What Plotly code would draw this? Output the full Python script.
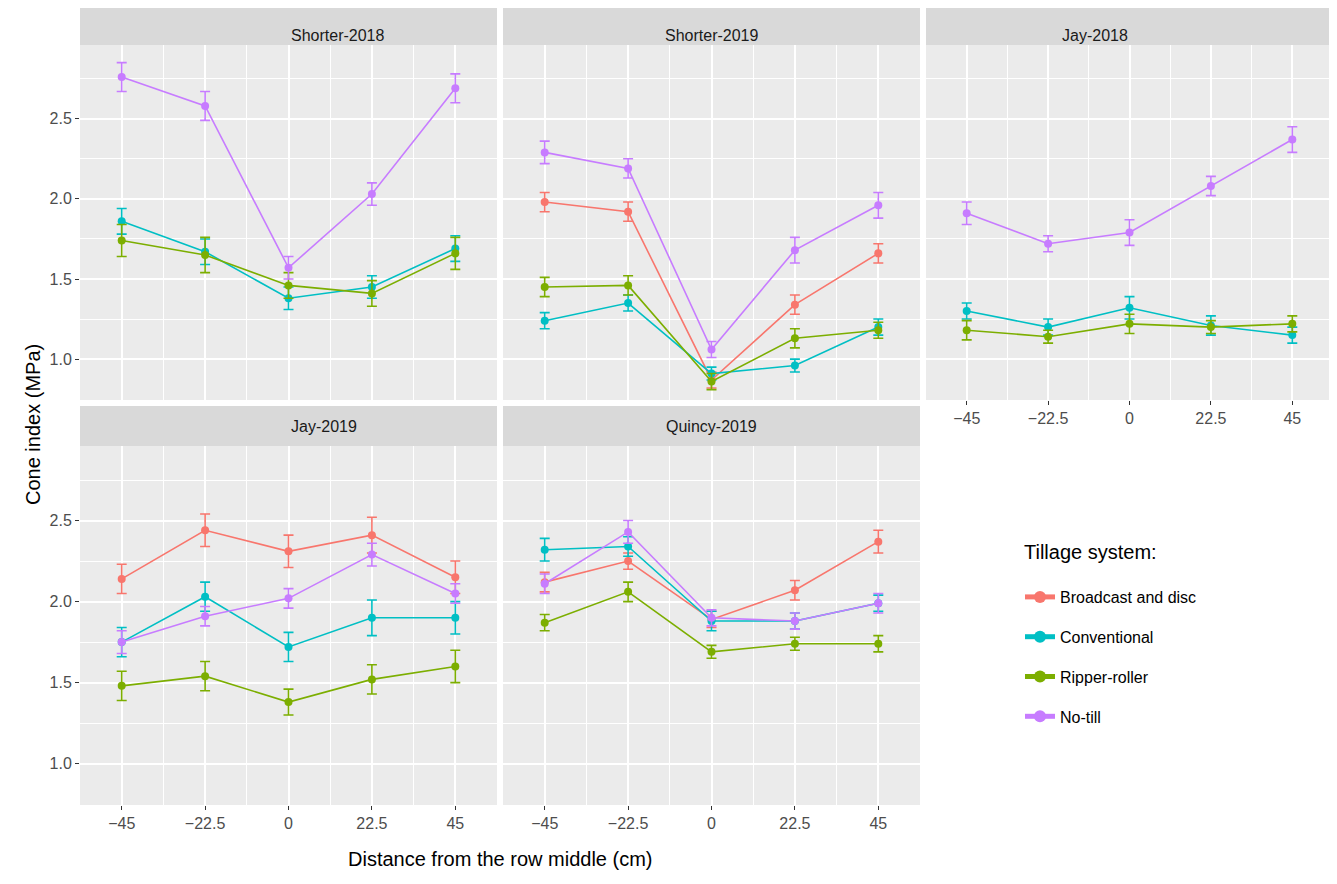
import plotly.graph_objects as go

W, H = 1337, 884
OFF = 8  # page body margin offset
x_vals = [-45, -22.5, 0, 22.5, 45]
x_labels = ["\u221245", "\u221222.5", "0", "22.5", "45"]
series_names = ["Broadcast and disc", "Conventional", "Ripper-roller", "No-till"]
colors = {"Broadcast and disc": "#F8766D", "Conventional": "#00BFC4",
          "Ripper-roller": "#7CAE00", "No-till": "#C77CFF"}

panels = ["Shorter-2018", "Shorter-2019", "Jay-2018", "Jay-2019", "Quincy-2019"]

shorter2018 = {
    "Conventional": ([1.86, 1.67, 1.38, 1.45, 1.69], [0.08, 0.08, 0.07, 0.07, 0.08]),
    "Ripper-roller": ([1.74, 1.65, 1.46, 1.41, 1.66], [0.10, 0.11, 0.08, 0.08, 0.10]),
    "No-till": ([2.76, 2.58, 1.57, 2.03, 2.69], [0.09, 0.09, 0.07, 0.07, 0.09]),
}
shorter2019 = {
    "Broadcast and disc": ([1.98, 1.92, 0.87, 1.34, 1.66], [0.06, 0.06, 0.05, 0.06, 0.06]),
    "Conventional": ([1.24, 1.35, 0.91, 0.96, 1.20], [0.05, 0.05, 0.04, 0.04, 0.05]),
    "Ripper-roller": ([1.45, 1.46, 0.86, 1.13, 1.18], [0.06, 0.06, 0.05, 0.06, 0.05]),
    "No-till": ([2.29, 2.19, 1.06, 1.68, 1.96], [0.07, 0.06, 0.05, 0.08, 0.08]),
}
jay2018 = {
    "Conventional": ([1.30, 1.20, 1.32, 1.21, 1.15], [0.05, 0.05, 0.07, 0.06, 0.05]),
    "Ripper-roller": ([1.18, 1.14, 1.22, 1.20, 1.22], [0.06, 0.04, 0.06, 0.04, 0.05]),
    "No-till": ([1.91, 1.72, 1.79, 2.08, 2.37], [0.07, 0.05, 0.08, 0.06, 0.08]),
}
jay2019 = {
    "Broadcast and disc": ([2.14, 2.44, 2.31, 2.41, 2.15], [0.09, 0.10, 0.10, 0.11, 0.10]),
    "Conventional": ([1.75, 2.03, 1.72, 1.90, 1.90], [0.09, 0.09, 0.09, 0.11, 0.10]),
    "Ripper-roller": ([1.48, 1.54, 1.38, 1.52, 1.60], [0.09, 0.09, 0.08, 0.09, 0.10]),
    "No-till": ([1.75, 1.91, 2.02, 2.29, 2.05], [0.07, 0.06, 0.06, 0.07, 0.06]),
}
quincy2019 = {
    "Broadcast and disc": ([2.12, 2.25, 1.89, 2.07, 2.37], [0.06, 0.05, 0.05, 0.06, 0.07]),
    "Conventional": ([2.32, 2.34, 1.88, 1.88, 1.99], [0.07, 0.06, 0.06, 0.05, 0.05]),
    "Ripper-roller": ([1.87, 2.06, 1.69, 1.74, 1.74], [0.05, 0.06, 0.04, 0.04, 0.05]),
    "No-till": ([2.11, 2.43, 1.90, 1.88, 1.99], [0.06, 0.07, 0.05, 0.05, 0.06]),
}
panel_data = [shorter2018, shorter2019, jay2018, jay2019, quincy2019]

cols = [(80 - OFF, 497 - OFF), (503 - OFF, 920 - OFF), (926 - OFF, 1333 - OFF)]
rows = [(45 - OFF, 400 - OFF), (446 - OFF, 805 - OFF)]
pos = [(0, 0), (0, 1), (0, 2), (1, 0), (1, 1)]
strip_h = 40

fig = go.Figure()
shown = set()
for i, (name, data) in enumerate(zip(panels, panel_data)):
    r, c = pos[i]
    ax = "" if i == 0 else str(i + 1)
    for s in series_names:
        if s not in data:
            continue
        y, e = data[s]
        fig.add_trace(go.Scatter(
            x=x_vals, y=y, mode="lines+markers", name=s,
            xaxis="x" + ax, yaxis="y" + ax,
            line=dict(color=colors[s], width=1.6),
            marker=dict(color=colors[s], size=8),
            error_y=dict(type="data", array=e, color=colors[s], thickness=1.6, width=5),
            showlegend=s not in shown, legendgroup=s,
            legendrank=series_names.index(s) + 1))
        shown.add(s)
    x0, x1 = cols[c]
    y0, y1 = rows[r]
    show_x = (r == 1) or (c == 2)
    fig.layout["xaxis" + ax] = dict(
        domain=[x0 / W, x1 / W], anchor="y" + ax, range=[-56.25, 56.25],
        tickvals=x_vals, ticktext=x_labels, showticklabels=show_x,
        ticks="outside" if show_x else "", ticklen=4, tickcolor="#333333",
        gridcolor="white", gridwidth=1.6, zeroline=False, showline=False,
        tickfont=dict(size=16, color="#4d4d4d"),
        minor=dict(dtick=11.25, tick0=0, showgrid=True, gridcolor="white", gridwidth=0.7))
    fig.layout["yaxis" + ax] = dict(
        domain=[1 - y1 / H, 1 - y0 / H], anchor="x" + ax, range=[0.745, 2.96],
        tickvals=[1.0, 1.5, 2.0, 2.5], ticktext=["1.0", "1.5", "2.0", "2.5"],
        showticklabels=(c == 0), ticks="outside" if c == 0 else "", ticklen=4,
        tickcolor="#333333", gridcolor="white", gridwidth=1.6, zeroline=False,
        tickfont=dict(size=16, color="#4d4d4d"),
        minor=dict(dtick=0.25, tick0=0, showgrid=True, gridcolor="white", gridwidth=0.7))
    fig.add_shape(type="rect", xref="paper", yref="paper", layer="below",
                  x0=x0 / W, x1=x1 / W, y0=1 - y1 / H, y1=1 - y0 / H,
                  fillcolor="#EBEBEB", line=dict(width=0))
    fig.add_shape(type="rect", xref="paper", yref="paper",
                  x0=x0 / W, x1=x1 / W, y0=1 - y0 / H, y1=1 - (y0 - strip_h) / H,
                  fillcolor="#D9D9D9", line=dict(width=0))
    fig.add_annotation(xref="paper", yref="paper", x=(x0 + x1) / 2 / W,
                       y=1 - (y0 - strip_h / 2) / H, text=name, showarrow=False,
                       font=dict(size=16, color="#1a1a1a"))

fig.add_annotation(xref="paper", yref="paper", x=(80 + 920 - 2 * OFF) / 2 / W, y=1 - (872 - OFF) / H,
                   text="Distance from the row middle (cm)", showarrow=False,
                   font=dict(size=20, color="black"))
fig.add_annotation(xref="paper", yref="paper", x=(20 - OFF) / W, y=1 - (425 - OFF) / H,
                   text="Cone index (MPa)", showarrow=False, textangle=-90,
                   font=dict(size=20, color="black"))
fig.add_annotation(xref="paper", yref="paper", x=(1022 - OFF) / W, y=1 - (552 - OFF) / H,
                   xanchor="left", text="Tillage system:", showarrow=False,
                   font=dict(size=20, color="black"))

fig.update_layout(
    width=W, height=H, margin=dict(l=0, r=0, t=0, b=0),
    paper_bgcolor="white", plot_bgcolor="rgba(0,0,0,0)",
    font=dict(family="Liberation Sans, Arial", color="black"),
    legend=dict(x=(1020 - OFF) / W, y=1 - (580 - OFF) / H, xanchor="left", yanchor="top",
                font=dict(size=16), traceorder="grouped", tracegroupgap=16,
                itemsizing="constant", bgcolor="white"),
)
fig.write_html("out.html")
